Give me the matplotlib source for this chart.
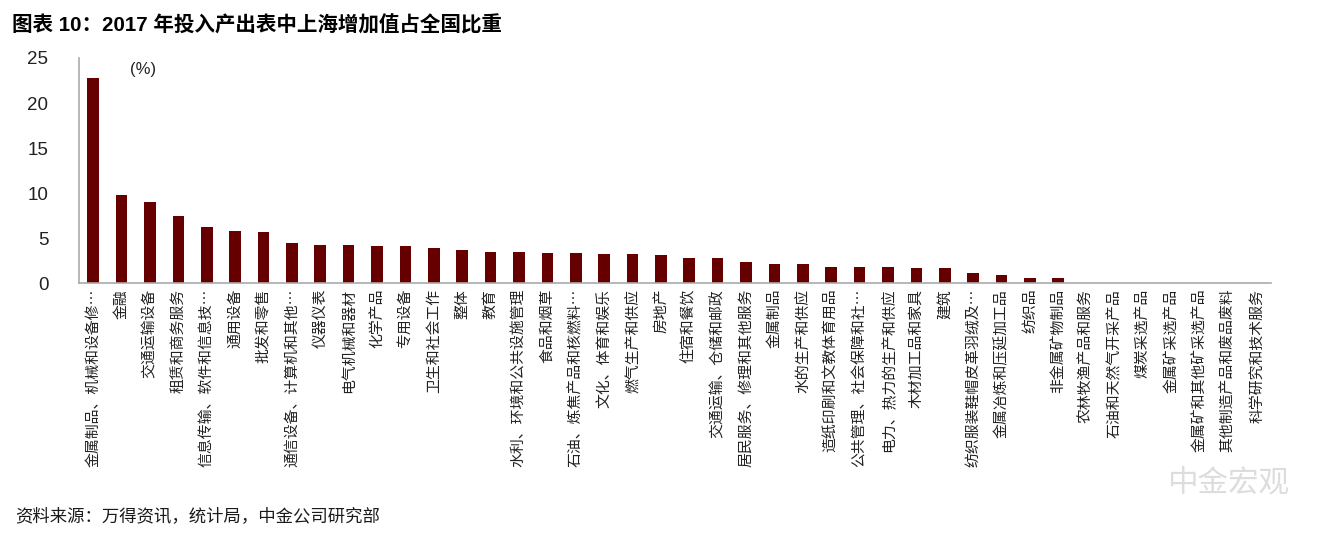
import numpy as np
import matplotlib
matplotlib.use("Agg")
import matplotlib.pyplot as plt

plt.rcParams["font.family"] = ["Liberation Sans", "Noto Sans CJK SC", "DejaVu Sans"]

categories = [
    "金属制品、机械和设备修…", "金融", "交通运输设备", "租赁和商务服务",
    "信息传输、软件和信息技…", "通用设备", "批发和零售", "通信设备、计算机和其他…",
    "仪器仪表", "电气机械和器材", "化学产品", "专用设备", "卫生和社会工作",
    "整体", "教育", "水利、环境和公共设施管理", "食品和烟草",
    "石油、炼焦产品和核燃料…", "文化、体育和娱乐", "燃气生产和供应", "房地产",
    "住宿和餐饮", "交通运输、仓储和邮政", "居民服务、修理和其他服务", "金属制品",
    "水的生产和供应", "造纸印刷和文教体育用品", "公共管理、社会保障和社…",
    "电力、热力的生产和供应", "木材加工品和家具", "建筑", "纺织服装鞋帽皮革羽绒及…",
    "金属冶炼和压延加工品", "纺织品", "非金属矿物制品", "农林牧渔产品和服务",
    "石油和天然气开采产品", "煤炭采选产品", "金属矿采选产品",
    "金属矿和其他矿采选产品", "其他制造产品和废品废料", "科学研究和技术服务",
]
share = [
    22.8, 9.8, 9.07, 7.5, 6.26, 5.81, 5.67, 4.52, 4.26, 4.26, 4.1, 4.1, 3.96,
    3.7, 3.52, 3.52, 3.41, 3.41, 3.26, 3.26, 3.11, 2.81, 2.81, 2.4, 2.1, 2.1,
    1.83, 1.83, 1.83, 1.7, 1.7, 1.11, 0.89, 0.55, 0.55, 0, 0, 0, 0, 0, 0, 0,
]

fig = plt.figure(figsize=(13.41, 5.4), dpi=100)
ax = fig.add_axes([0.0589, 0.4754, 0.889, 0.4172])

x = np.arange(len(categories))
ax.bar(x, share, width=0.41, color="#660000")

ax.set_xlim(-0.5, len(categories) - 0.5)
ax.set_ylim(0, 25)
ax.set_yticks([0, 5, 10, 15, 20, 25])
ax.set_xticks(x)
ax.set_xticklabels(categories, rotation=90, fontsize=10.7,
                   family=["Noto Sans CJK SC", "DejaVu Sans"])
ax.tick_params(axis="both", length=0, colors="#222222")
ax.tick_params(axis="y", labelsize=13.5, pad=22)
ax.tick_params(axis="x", pad=4)

for s in ["top", "right"]:
    ax.spines[s].set_visible(False)
for s in ["left", "bottom"]:
    ax.spines[s].set_color("#aaaaaa")
    ax.spines[s].set_linewidth(1.2)

ax.text(1.3, 23.2, "(%)", fontsize=12, color="#222222")

fig.text(0.009, 0.953, "图表 10：2017 年投入产出表中上海增加值占全国比重",
         fontsize=14.8, fontweight="bold", va="center",
         family=["Liberation Sans", "Noto Sans CJK SC"])
fig.text(0.011, 0.044, "资料来源：万得资讯，统计局，中金公司研究部",
         fontsize=12.5, color="#1a1a1a", va="center",
         family=["Noto Sans CJK SC"])
fig.text(0.87, 0.105, "中金宏观", fontsize=22, color="#dddddd", va="center",
         family=["Noto Sans CJK SC"])

fig.savefig("out.png", dpi=100)
